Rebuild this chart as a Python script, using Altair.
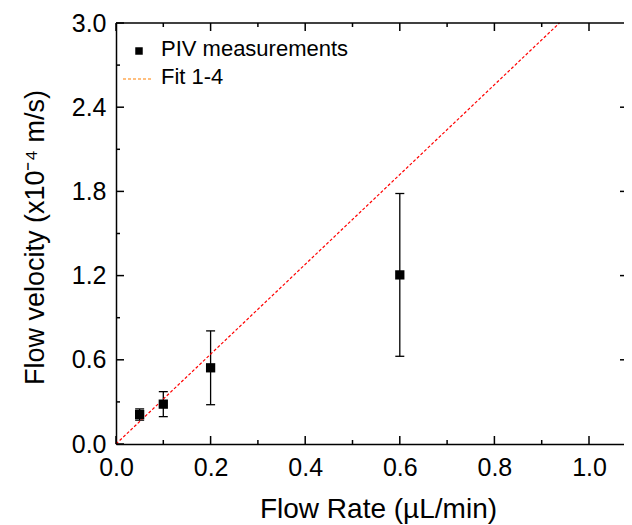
import altair as alt
import pandas as pd

# ---- data ----
flow_rate = [0.05, 0.1, 0.2, 0.6]
velocity = [0.21, 0.284, 0.543, 1.205]
velocity_err = [0.04, 0.089, 0.263, 0.58]

fit_rate = [0.0, 0.9375]
fit_velocity = [0.0, 3.0]

x_major = [0.0, 0.2, 0.4, 0.6, 0.8, 1.0]
x_minor = [0.1, 0.3, 0.5, 0.7, 0.9]
y_major = [0.0, 0.6, 1.2, 1.8, 2.4, 3.0]
y_minor = [0.3, 0.9, 1.5, 2.1, 2.7]
y_right = [0.6, 1.2, 1.8, 2.4]

x_title = "Flow Rate (µL/min)"
y_title = "Flow velocity (x10⁻⁴ m/s)"
legend_labels = ["PIV measurements", "Fit 1-4"]

# ---- layout ----
W, H = 508, 421
X_MAX = W / 473.0
FONT = "Liberation Sans"

xs = alt.Scale(domain=[0, X_MAX], nice=False, zero=False)
ys = alt.Scale(domain=[0, 3.0], nice=False, zero=False)

meas = pd.DataFrame({"rate": flow_rate, "vel": velocity, "err": velocity_err})
fit = pd.DataFrame({"rate": fit_rate, "vel": fit_velocity})
one = pd.DataFrame({"a": [0]})

x_axis = alt.Axis(values=x_major, format=".1f", ticks=False, grid=False,
                  domainColor="black", domainWidth=1.5,
                  labelFont=FONT, labelFontSize=25, labelColor="black",
                  labelPadding=11, labelFlush=False, labelOverlap=False,
                  title=x_title, titleFont=FONT, titleFontSize=28,
                  titleFontWeight="normal", titleColor="black", titlePadding=15,
                  titleX=262)
y_axis = alt.Axis(values=y_major, format=".1f", ticks=False, grid=False,
                  domainColor="black", domainWidth=1.5,
                  labelFont=FONT, labelFontSize=25, labelColor="black",
                  labelPadding=10, labelFlush=False, labelOverlap=False,
                  title=y_title, titleFont=FONT, titleFontSize=27,
                  titleFontWeight="normal", titleColor="black", titlePadding=22,
                  titleY=214)


def X(field):
    return alt.X(field, scale=xs, axis=x_axis)


def Y(field):
    return alt.Y(field, scale=ys, axis=y_axis)


base = alt.Chart(meas).transform_calculate(
    lo="datum.vel - datum.err", hi="datum.vel + datum.err")

bars = base.mark_rule(color="black", strokeWidth=1.3).encode(
    x=X("rate:Q"), y=Y("lo:Q"), y2="hi:Q")
cap_lo = base.mark_tick(orient="horizontal", size=9, thickness=1.3, color="black", opacity=1).encode(
    x=X("rate:Q"), y=Y("lo:Q"))
cap_hi = base.mark_tick(orient="horizontal", size=9, thickness=1.3, color="black", opacity=1).encode(
    x=X("rate:Q"), y=Y("hi:Q"))
pts = alt.Chart(meas).mark_square(size=86, color="black", opacity=1).encode(
    x=X("rate:Q"), y=Y("vel:Q"))

fit_line = alt.Chart(fit).mark_line(color="#FF0000", strokeWidth=1.2, strokeDash=[3, 2]).encode(
    x=X("rate:Q"), y=Y("vel:Q"))


# ---- inward ticks and frame ----
def xticks(vals, y0, y1):
    return alt.Chart(pd.DataFrame({"v": vals})).mark_rule(color="black", strokeWidth=1.5).encode(
        x=X("v:Q"), y=alt.value(y0), y2=alt.value(y1))


def yticks(vals, x0, x1):
    return alt.Chart(pd.DataFrame({"v": vals})).mark_rule(color="black", strokeWidth=1.5).encode(
        y=Y("v:Q"), x=alt.value(x0), x2=alt.value(x1))


ticks = [
    xticks(x_major, H, H - 8), xticks(x_minor, H, H - 4),
    xticks(x_major, 0, 8), xticks(x_minor, 0, 4),
    yticks(y_major, 0, 8), yticks(y_minor, 0, 4),
    yticks(y_right, W - 4, W),
]
top_line = alt.Chart(one).mark_rule(color="black", strokeWidth=1.5).encode(
    x=alt.value(0), x2=alt.value(W), y=alt.value(0))

# ---- manual legend ----
leg_sq = alt.Chart(one).mark_square(size=56, color="black", opacity=1).encode(
    x=alt.value(23), y=alt.value(28))
leg_line = alt.Chart(one).mark_rule(color="#FF8000", strokeWidth=1.2, strokeDash=[3, 2]).encode(
    x=alt.value(7), x2=alt.value(37), y=alt.value(56))
leg_txt1 = alt.Chart(pd.DataFrame({"t": [legend_labels[0]]})).mark_text(
    align="left", baseline="middle", font=FONT, fontSize=22, color="black").encode(
    x=alt.value(45), y=alt.value(26), text="t:N")
leg_txt2 = alt.Chart(pd.DataFrame({"t": [legend_labels[1]]})).mark_text(
    align="left", baseline="middle", font=FONT, fontSize=22, color="black").encode(
    x=alt.value(45), y=alt.value(54), text="t:N")

chart = alt.layer(
    bars, cap_lo, cap_hi, fit_line, pts, *ticks, top_line,
    leg_sq, leg_line, leg_txt1, leg_txt2
).properties(
    width=W, height=H,
    padding={"left": 108, "top": 15, "right": 0, "bottom": 80},
    autosize=alt.AutoSizeParams(type="none"),
    background="white",
).configure_view(stroke=None)

chart.save("out.html", embed_options={"renderer": "svg", "actions": False})
